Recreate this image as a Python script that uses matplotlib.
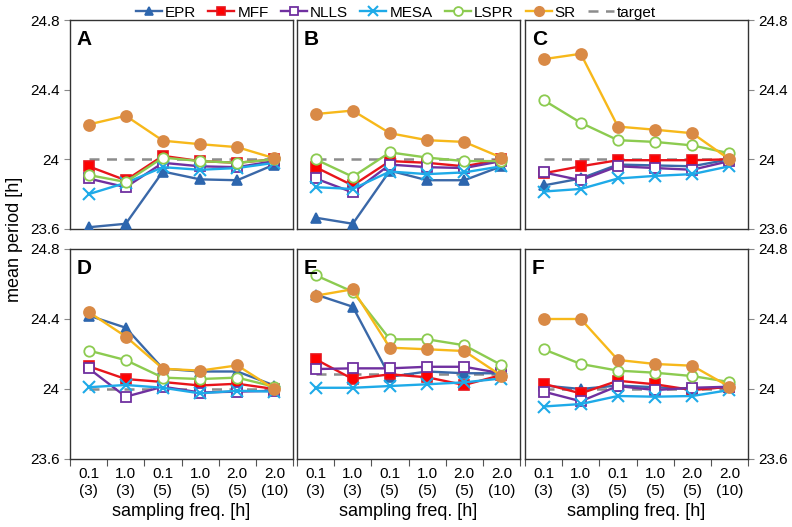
import matplotlib
matplotlib.use("Agg")
import matplotlib.pyplot as plt
import numpy as np

plt.rcParams['font.family'] = ['Liberation Sans', 'DejaVu Sans']

# x categories: sampling freq (window)
x_labels = ["0.1\n(3)", "1.0\n(3)", "0.1\n(5)", "1.0\n(5)", "2.0\n(5)", "2.0\n(10)"]
panels = ["A", "B", "C", "D", "E", "F"]
methods = ["EPR", "MFF", "NLLS", "MESA", "LSPR", "SR"]

# mean period [h] per panel, per method
epr = {
    "A": [23.61, 23.63, 23.93, 23.885, 23.88, 23.97],
    "B": [23.665, 23.63, 23.935, 23.88, 23.88, 23.96],
    "C": [23.85, 23.89, 23.97, 23.965, 23.96, 24.0],
    "D": [24.42, 24.35, 24.116, 24.10, 24.10, 24.02],
    "E": [24.54, 24.47, 24.07, 24.10, 24.09, 24.09],
    "F": [24.02, 24.0, 24.02, 24.01, 24.0, 24.01],
}
mff = {
    "A": [23.96, 23.88, 24.02, 23.99, 23.98, 24.0],
    "B": [23.955, 23.85, 23.99, 23.98, 23.96, 24.0],
    "C": [23.92, 23.96, 23.995, 23.995, 23.995, 24.0],
    "D": [24.13, 24.057, 24.04, 24.02, 24.03, 24.0],
    "E": [24.17, 24.057, 24.084, 24.067, 24.023, 24.08],
    "F": [24.03, 23.975, 24.047, 24.027, 23.994, 24.013],
}
nlls = {
    "A": [23.89, 23.84, 23.98, 23.96, 23.955, 23.99],
    "B": [23.89, 23.81, 23.97, 23.955, 23.95, 23.99],
    "C": [23.925, 23.88, 23.96, 23.95, 23.94, 23.99],
    "D": [24.118, 23.956, 24.013, 23.98, 23.985, 23.99],
    "E": [24.114, 24.118, 24.118, 24.127, 24.127, 24.09],
    "F": [23.985, 23.93, 24.017, 23.994, 24.007, 24.013],
}
mesa = {
    "A": [23.80, 23.865, 23.955, 23.94, 23.95, 23.98],
    "B": [23.84, 23.83, 23.93, 23.915, 23.925, 23.96],
    "C": [23.815, 23.83, 23.89, 23.905, 23.915, 23.96],
    "D": [24.01, 24.023, 24.007, 23.975, 23.99, 23.985],
    "E": [24.007, 24.007, 24.017, 24.027, 24.038, 24.06],
    "F": [23.90, 23.914, 23.96, 23.956, 23.96, 23.994],
}
lspr = {
    "A": [23.91, 23.87, 24.01, 23.99, 23.98, 24.0],
    "B": [24.0, 23.90, 24.04, 24.01, 23.99, 23.99],
    "C": [24.34, 24.21, 24.11, 24.10, 24.08, 24.035],
    "D": [24.22, 24.165, 24.065, 24.057, 24.065, 24.013],
    "E": [24.65, 24.556, 24.284, 24.284, 24.25, 24.137],
    "F": [24.227, 24.143, 24.105, 24.093, 24.074, 24.04],
}
sr = {
    "A": [24.20, 24.25, 24.107, 24.087, 24.07, 24.006],
    "B": [24.26, 24.28, 24.15, 24.11, 24.10, 24.01],
    "C": [24.575, 24.606, 24.188, 24.17, 24.15, 24.0],
    "D": [24.44, 24.30, 24.116, 24.105, 24.135, 24.0],
    "E": [24.533, 24.57, 24.236, 24.227, 24.217, 24.076],
    "F": [24.40, 24.40, 24.166, 24.143, 24.133, 24.013],
}
target = {"A": 24.0, "B": 24.0, "C": 24.0, "D": 24.0, "E": 24.085, "F": 24.0}

styles = {
    "EPR": dict(color="#3A68A8", marker="^", mfc="#2D66AE", mec="#2D66AE", ms=7.5, mew=1.2),
    "MFF": dict(color="#E8141B", marker="s", mfc="#FF0000", mec="#E8141B", ms=7, mew=1.2),
    "NLLS": dict(color="#7030A0", marker="s", mfc="white", mec="#7030A0", ms=7.5, mew=1.3),
    "MESA": dict(color="#1EAAE8", marker="x", mfc="#1EAAE8", mec="#1EAAE8", ms=8, mew=1.5),
    "LSPR": dict(color="#8CCB50", marker="o", mfc="white", mec="#8CCB50", ms=7.5, mew=1.3),
    "SR": dict(color="#F7B81A", marker="o", mfc="#D98A46", mec="#D98A46", ms=8, mew=1.2),
}
series = {"EPR": epr, "MFF": mff, "NLLS": nlls, "MESA": mesa, "LSPR": lspr, "SR": sr}

fig = plt.figure(figsize=(7.92, 5.27), dpi=100)
W = 792.0
H = 527.0
lefts = [70, 297, 525]
pw = 223
rows = [(20, 229), (249, 459)]

x = np.arange(len(x_labels))
handles = []
for i, p in enumerate(panels):
    r, c = divmod(i, 3)
    top, bot = rows[r]
    ax = fig.add_axes([lefts[c] / W, 1 - bot / H, pw / W, (bot - top) / H])
    ax.plot(x, [target[p]] * len(x), color="#8C8C8C", ls=(0, (4, 3)), lw=1.8, zorder=1)
    for m in methods:
        ln, = ax.plot(x, series[m][p], lw=1.7, label=m, zorder=3, **styles[m])
        if i == 0:
            handles.append(ln)
    ax.set_xlim(-0.5, 5.5)
    ax.set_ylim(23.6, 24.8)
    ax.set_yticks([23.6, 24.0, 24.4, 24.8])
    ax.set_yticklabels(["23.6", "24", "24.4", "24.8"])
    ax.text(0.03, 0.95, p, transform=ax.transAxes, fontsize=15, fontweight="bold",
            va="top", ha="left")
    for s in ax.spines.values():
        s.set_color("#333333")
        s.set_linewidth(1)
    ax.tick_params(axis="y", labelsize=11, color="#888888", length=4, direction="out")
    if c == 0:
        ax.tick_params(axis="y", left=True, right=False, labelleft=True, labelright=False)
    elif c == 2:
        ax.tick_params(axis="y", left=False, right=True, labelleft=False, labelright=True)
    else:
        ax.tick_params(axis="y", left=False, right=False, labelleft=False)
    if r == 1:
        ax.set_xticks(np.arange(-0.5, 6.0, 1.0))
        ax.set_xticklabels([])
        ax.set_xticks(x, minor=True)
        ax.set_xticklabels(x_labels, minor=True, fontsize=11)
        ax.tick_params(axis="x", which="minor", length=0, pad=6)
        ax.tick_params(axis="x", which="major", length=5, color="#555555")
        ax.set_xlabel("sampling freq. [h]", fontsize=13, labelpad=4)
    else:
        ax.set_xticks([])

tgt, = plt.plot([], [], color="#8C8C8C", ls=(0, (4, 3)), lw=1.8, label="target")
handles.append(tgt)
fig.legend(handles=handles, loc="center", bbox_to_anchor=(0.5, 0.976), ncol=7,
           frameon=False, fontsize=11, handlelength=1.7, handletextpad=0.2,
           columnspacing=0.8, markerscale=0.85)
fig.text(0.018, 0.545, "mean period [h]", rotation=90, fontsize=13, va="center", ha="center")

fig.savefig("out.png", dpi=100)
